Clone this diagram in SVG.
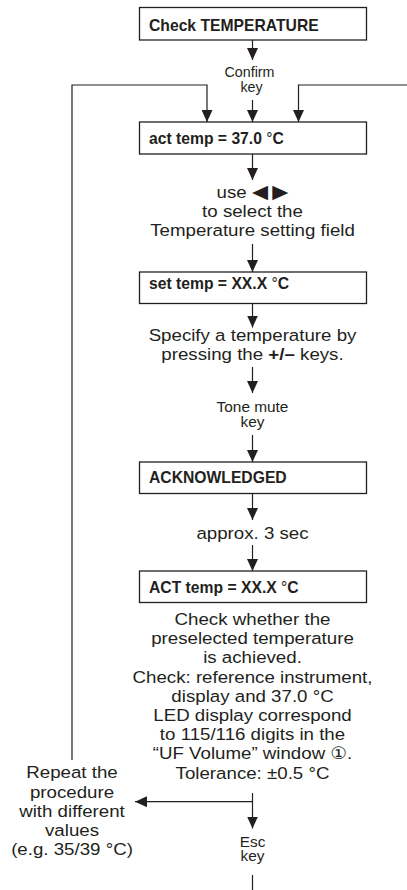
<svg xmlns="http://www.w3.org/2000/svg" width="407" height="890" viewBox="0 0 407 890">
<defs>
<marker id="ah" markerUnits="userSpaceOnUse" markerWidth="12" markerHeight="11" refX="12" refY="5.5" orient="auto">
<path d="M0,0 L12,5.5 L0,11 z" fill="#231f20"/>
</marker>
<style>
.box{fill:#fff;stroke:#231f20;stroke-width:1.3}
.bt{font-family:"Liberation Sans","DejaVu Sans",sans-serif;font-weight:bold;font-size:15.7px;fill:#231f20}
.bt .n{font-weight:normal}
.t{font-family:"Liberation Sans","DejaVu Sans",sans-serif;font-size:17px;fill:#231f20;text-anchor:middle}
.s{font-family:"Liberation Sans","DejaVu Sans",sans-serif;font-size:14px;fill:#231f20;text-anchor:middle}
.sym{font-family:"DejaVu Sans",sans-serif;font-size:19px}
.c{fill:none;stroke:#231f20;stroke-width:1.2}
.ca{fill:none;stroke:#231f20;stroke-width:1.2;marker-end:url(#ah)}
</style>
</defs>
<rect width="407" height="890" fill="#fff"/>

<g id="connectors">
<path class="ca" d="M252.5,40 V60"/>
<path class="ca" d="M252.5,100 V122"/>
<path class="ca" d="M72,760 V85 H207 V122"/>
<path class="ca" d="M407,85 H298.5 V122"/>
<path class="ca" d="M252.5,154 V180"/>
<path class="ca" d="M252.5,244 V272"/>
<path class="ca" d="M252.5,303.5 V327.5"/>
<path class="ca" d="M252.5,367 V393"/>
<path class="ca" d="M252.5,435 V462"/>
<path class="ca" d="M252.5,493.5 V520"/>
<path class="ca" d="M252.5,545 V571"/>
<path class="ca" d="M252.5,793 V828.5"/>
<path class="ca" d="M252.5,801.7 H135"/>
<path class="c" d="M252.5,875 V890"/>
</g>

<g id="check-temperature">
<rect class="box" x="139.5" y="7.5" width="227" height="32.5"/>
<text class="bt" x="149" y="30.5">Check TEMPERATURE</text>
</g>

<g id="confirm-key" transform="translate(249.5,0) scale(1.02,1)">
<text class="s" x="0" y="77">Confirm</text>
<text class="s" x="0" y="92.5" dx="2">key</text>
</g>

<g id="act-temp">
<rect class="box" x="139.5" y="122" width="227" height="32"/>
<text class="bt" x="149" y="143.5">act temp = 37.0 <tspan class="n">°</tspan>C</text>
</g>

<g id="use-select" transform="translate(252.5,0) scale(1.1,1)">
<text class="t" x="0" y="198">use <tspan class="sym" dy="0.5">◀</tspan><tspan class="sym" dx="4">▶</tspan></text>
<text class="t" x="0" y="217.3">to select the</text>
<text class="t" x="0" y="236.5">Temperature setting field</text>
</g>

<g id="set-temp">
<rect class="box" x="139.5" y="272" width="227" height="31.5"/>
<text class="bt" x="149" y="289">set temp = XX.X <tspan class="n">°</tspan>C</text>
</g>

<g id="specify" transform="translate(252.5,0) scale(1.1,1)">
<text class="t" x="0" y="341">Specify a temperature by</text>
<text class="t" x="0" y="360.5">pressing the <tspan font-weight="bold">+/–</tspan> keys.</text>
</g>

<g id="tone-mute-key" transform="translate(252.5,0) scale(1.1,1)">
<text class="s" x="0" y="411.7">Tone mute</text>
<text class="s" x="0" y="427.5">key</text>
</g>

<g id="acknowledged">
<rect class="box" x="139.5" y="462" width="227" height="31.5"/>
<text class="bt" x="149" y="483.3">ACKNOWLEDGED</text>
</g>

<g id="approx" transform="translate(252.5,0) scale(1.1,1)">
<text class="t" x="0" y="539">approx. 3 sec</text>
</g>

<g id="act-temp-xx">
<rect class="box" x="139.5" y="571" width="227" height="31.5"/>
<text class="bt" x="149" y="592.7">ACT temp = XX.X <tspan class="n">°</tspan>C</text>
</g>

<g id="check-whether" transform="translate(252.5,0) scale(1.1,1)">
<text class="t" x="0" y="625">Check whether the</text>
<text class="t" x="0" y="644.2">preselected temperature</text>
<text class="t" x="0" y="663.4">is achieved.</text>
<text class="t" x="0" y="682.6">Check: reference instrument,</text>
<text class="t" x="0" y="701.8">display and 37.0 °C</text>
<text class="t" x="0" y="721">LED display correspond</text>
<text class="t" x="0" y="740.2">to 115/116 digits in the</text>
<text class="t" x="0" y="759.4">“UF Volume” window ①.</text>
<text class="t" x="0" y="778.6">Tolerance: ±0.5 °C</text>
</g>

<g id="repeat" transform="translate(72,0) scale(1.1,1)">
<text class="t" x="0" y="778.5">Repeat the</text>
<text class="t" x="0" y="797.7">procedure</text>
<text class="t" x="0" y="816.9">with different</text>
<text class="t" x="0" y="836.1">values</text>
<text class="t" x="0" y="855.3">(e.g. 35/39 °C)</text>
</g>

<g id="esc-key" transform="translate(252.5,0) scale(1.1,1)">
<text class="s" x="0" y="847.3">Esc</text>
<text class="s" x="0" y="861.5">key</text>
</g>
</svg>
